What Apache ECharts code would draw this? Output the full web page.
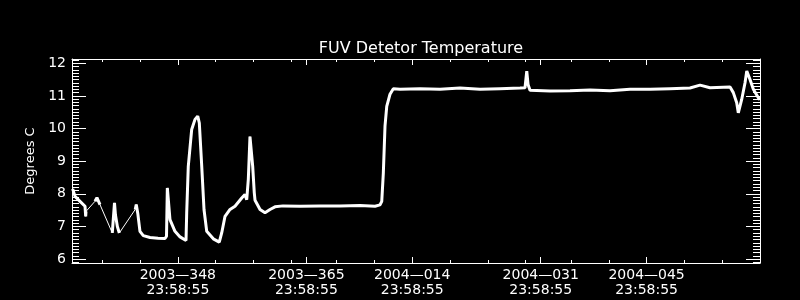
<!DOCTYPE html>
<html>
<head>
<meta charset="utf-8">
<script src="https://cdn.jsdelivr.net/npm/echarts@6/dist/echarts.min.js"></script>
<style>html,body{margin:0;padding:0;background:#000;}#c{width:800px;height:300px;}</style>
</head>
<body>
<div id="c"></div>
<script>
// time in days counted from 2003-000 (2004-001 = day 366)
const days = [
  334.09, 334.17, 334.40, 335.06, 335.72, 335.81, 335.85,
  337.04, 337.30, 337.70,
  339.33, 339.62, 339.75, 340.00, 340.26,
  342.36, 342.50, 342.70, 342.99, 343.43, 344.32, 345.38, 346.30, 346.50,
  346.61, 346.96, 347.62, 348.29, 349.08, 349.17, 349.38, 349.83, 350.27,
  350.63, 350.84, 351.16, 351.46, 351.82, 352.69, 353.48, 353.80, 354.24,
  354.90, 355.56, 356.45, 356.88, 357.11, 357.32, 357.54, 357.64, 357.90,
  358.11, 358.21, 358.64, 358.87, 359.53, 360.19, 360.85, 361.91, 364.16,
  366.80, 369.45, 372.10, 374.08, 374.74, 374.97, 375.18, 375.40, 375.63,
  376.06, 376.50, 377.39, 380.03, 382.68, 385.32, 387.97, 390.61, 393.26,
  393.92, 394.15, 394.32, 394.58, 397.23, 399.87, 402.52, 405.16, 407.81,
  410.46, 413.10, 415.74, 417.07, 418.39, 421.04, 421.47, 421.92, 422.13,
  422.58, 423.02, 423.25, 423.68, 424.12, 424.78, 425.00
];
const temps = [
  8.15, 8.13, 7.92, 7.77, 7.62, 7.31, 7.46,
  7.77, 7.88, 7.67,
  6.80, 7.72, 7.35, 7.00, 6.80,
  7.52, 7.67, 7.40, 6.85, 6.72, 6.66, 6.64, 6.63, 6.70,
  8.18, 7.21, 6.85, 6.68, 6.57, 7.41, 8.84, 9.97, 10.28,
  10.38, 10.17, 8.84, 7.52, 6.85, 6.62, 6.52, 6.80, 7.31,
  7.52, 7.62, 7.87, 7.98, 7.82, 8.44, 9.75, 9.71, 8.84,
  8.03, 7.80, 7.62, 7.52, 7.42, 7.52, 7.60, 7.63, 7.62,
  7.63, 7.63, 7.64, 7.62, 7.66, 7.77, 8.64, 10.07, 10.68,
  11.05, 11.22, 11.20, 11.22, 11.20, 11.24, 11.20, 11.22, 11.24,
  11.25, 11.76, 11.35, 11.17, 11.15, 11.16, 11.18, 11.16, 11.20,
  11.20, 11.22, 11.24, 11.33, 11.25, 11.27, 11.10, 10.79, 10.48,
  10.89, 11.40, 11.76, 11.50, 11.20, 10.94, 10.88
];
// data gaps (thin connecting line) begin after these days
const gapAfter = [335.85, 337.70, 340.26];

const xTickDays = [348, 365, 379, 396, 410];
const xTickLabels = ['2003\u2014348\n23:58:55', '2003\u2014365\n23:58:55', '2004\u2014014\n23:58:55', '2004\u2014031\n23:58:55', '2004\u2014045\n23:58:55'];
const xMinorDays = [338, 343, 348, 353, 358, 363, 365, 369, 374, 379, 384, 389, 394, 396, 400, 405, 410, 415, 420];
const yMajor = [6, 7, 8, 9, 10, 11, 12];
const yMinor = [];
for (let v = 59; v <= 121; v++) yMinor.push(v / 10);

const XMIN = 334, XMAX = 425, YMIN = 5.88, YMAX = 12.13;

const allPts = days.map((d, i) => [d, temps[i]]);
const thickPts = [];
days.forEach((d, i) => {
  thickPts.push([d, temps[i]]);
  if (gapAfter.includes(d)) thickPts.push([d + 0.01, null]);
});

const W = '#ffffff';
const font = 'DejaVu Sans';
function xAx(pos, major, showLabel, showLine) {
  return {
    type: 'value', min: XMIN, max: XMAX, position: pos,
    axisLine: { show: showLine, lineStyle: { color: W, width: 1 } },
    splitLine: { show: false },
    axisTick: { show: true, inside: true, length: major ? 6 : 3, lineStyle: { color: W },
      customValues: major ? xTickDays : xMinorDays },
    axisLabel: { show: showLabel, customValues: xTickDays, color: W, fontFamily: font, fontSize: 14,
      lineHeight: 15, margin: 5,
      formatter: v => { const i = xTickDays.indexOf(Math.round(v)); return i >= 0 ? xTickLabels[i] : ''; } }
  };
}
function yAx(pos, major, showLabel, showLine) {
  const o = {
    type: 'value', min: YMIN, max: YMAX, position: pos,
    axisLine: { show: showLine, onZero: false, lineStyle: { color: W, width: 1 } },
    splitLine: { show: false },
    axisTick: { show: true, inside: true, length: major ? 14 : 7, lineStyle: { color: W },
      customValues: major ? yMajor : yMinor },
    axisLabel: { show: showLabel, customValues: yMajor, color: W, fontFamily: font, fontSize: 14, margin: 6 }
  };
  if (showLabel) {
    o.name = 'Degrees C';
    o.nameLocation = 'middle';
    o.nameGap = 30;
    o.nameTextStyle = { color: W, fontFamily: font, fontSize: 13 };
  }
  return o;
}

const chart = echarts.init(document.getElementById('c'), null, { renderer: 'canvas' });
chart.setOption({
  backgroundColor: '#000',
  animation: false,
  title: { text: 'FUV Detetor Temperature', left: 416, textAlign: 'center', top: 36,
    textStyle: { color: W, fontFamily: font, fontSize: 16, fontWeight: 'normal' } },
  grid: { left: 72, right: 40, top: 59, bottom: 37 },
  xAxis: [xAx('bottom', true, true, true), xAx('bottom', false, false, false),
          xAx('top', true, false, true), xAx('top', false, false, false)],
  yAxis: [yAx('left', true, true, true), yAx('left', false, false, false),
          yAx('right', true, false, true), yAx('right', false, false, false)],
  series: [
    { type: 'line', data: allPts, showSymbol: false, lineStyle: { color: W, width: 1 }, xAxisIndex: 0, yAxisIndex: 0 },
    { type: 'line', data: thickPts, showSymbol: false, connectNulls: false, lineStyle: { color: W, width: 3 }, xAxisIndex: 0, yAxisIndex: 0 }
  ]
});
</script>
</body>
</html>
